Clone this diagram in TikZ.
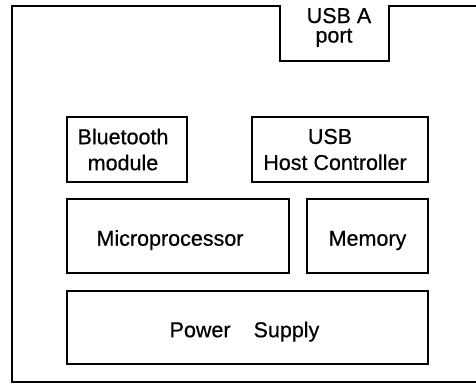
\documentclass[tikz,border=0pt]{standalone}
\usepackage{fontspec}
\setmainfont{Liberation Sans}
\newfontfamily\lblfont{Liberation Sans}[FakeBold=0.6]
\begin{document}
\begin{tikzpicture}[x=1pt,y=-1pt,
  frame/.style={draw,line width=2.6pt,line join=miter},
  blk/.style={draw,line width=2.2pt,inner sep=0pt,align=center,
    font=\lblfont\fontsize{21.5pt}{26pt}\selectfont},
  onerow/.style={text height=19.4pt,text depth=0pt},
  porttext/.style={inner sep=0pt,align=center,
    font=\lblfont\fontsize{21.5pt}{19.5pt}\selectfont}]
  \useasboundingbox (0,0) rectangle (476,384);
  \clip (0,0) rectangle (476,384);
  % enclosure outline with the connector notch at the top
  \draw[frame] (490,6) -- (389,6) -- (389,61) -- (280,61) -- (280,6)
    -- (12,6) -- (12,382) -- (490,382);
  \node[porttext] (port) at (339,27.5) {USB A\\\hspace*{-10pt}port};
  % functional blocks (a leading negative space nudges a label left)
  \node[blk,minimum width=120pt,minimum height=65pt] (bt) at (127,149.5)
    {\hspace*{-8pt}Bluetooth\\\hspace*{-8pt}module};
  \node[blk,minimum width=176pt,minimum height=65pt] (usbhc) at (340,149.5)
    {\hspace*{-20pt}USB\\\hspace*{-10pt}Host Controller};
  \node[blk,onerow,minimum width=222pt,minimum height=74pt] (cpu) at (178,236)
    {\hspace*{-16pt}Microprocessor};
  \node[blk,onerow,minimum width=121pt,minimum height=74pt] (mem) at (367.5,236)
    {Memory};
  \node[blk,onerow,minimum width=361pt,minimum height=73pt] (psu) at (247.5,327.5)
    {\hspace*{-6pt}Power\hspace{1.07em}Supply};
\end{tikzpicture}
\end{document}
